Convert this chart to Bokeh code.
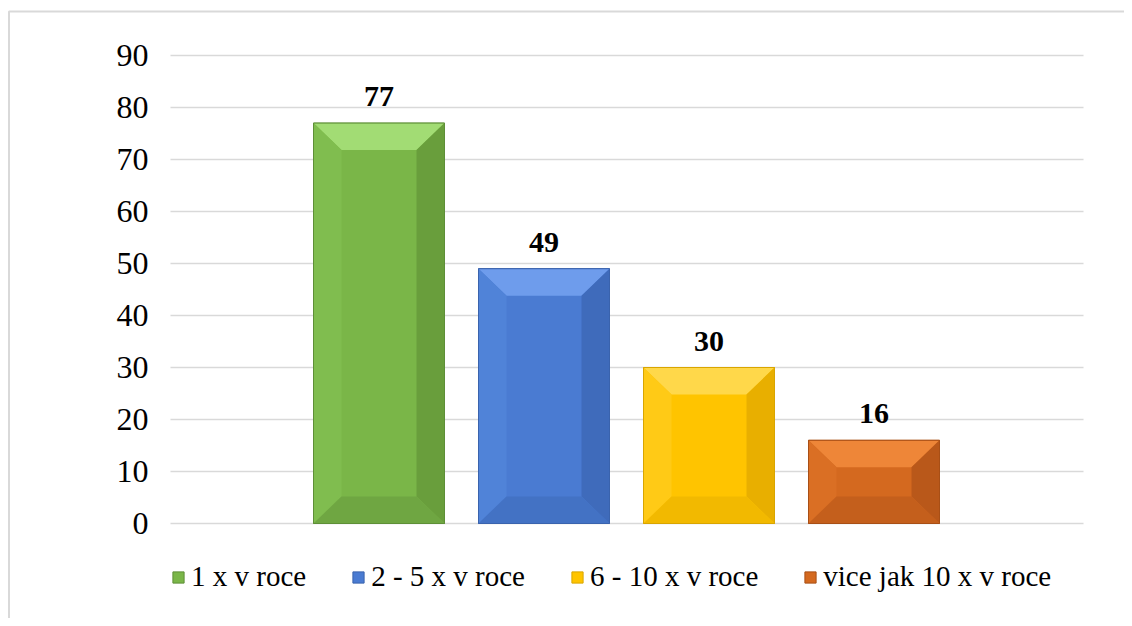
from bokeh.plotting import figure
from bokeh.models import Range1d, Legend, LegendItem, ColumnDataSource
from bokeh.core.properties import value
from bokeh.embed import file_html
from bokeh.resources import INLINE

# ---- data ----
categories = ["1 x v roce", "2 - 5 x v roce", "6 - 10 x v roce", "vice jak 10 x v roce"]
values = [77, 49, 30, 16]
y_ticks = [0, 10, 20, 30, 40, 50, 60, 70, 80, 90]
y_tick_labels = ["0", "10", "20", "30", "40", "50", "60", "70", "80", "90"]

# ---- styles ----
col_main = ["#7AB648", "#4A7BD2", "#FFC400", "#D4691F"]
col_top = ["#A2DC74", "#6E9CEC", "#FFD84A", "#EE8638"]
col_left = ["#80BD4F", "#5083D8", "#FFCA16", "#DA6F24"]
col_right = ["#699E3C", "#3F6BBB", "#E8AF00", "#B9581A"]
col_bottom = ["#6FA642", "#4372C4", "#F2B900", "#C45F1C"]
col_line = ["#5E8F37", "#3A63AD", "#D9A500", "#A84F16"]

FONT = "Liberation Serif"
W, H = 1124, 618
# pixel geometry of the plotting area inside the figure
SX = 165.0           # px per category step
SY = 5.2             # px per value unit
X0 = -378.5 / SX     # data x at figure left edge
Y_BOTTOM_PX = 95.0   # px from figure bottom to value 0
Y0 = -Y_BOTTOM_PX / SY
GRID_L = X0 + 170 / SX
GRID_R = X0 + 1083 / SX
bar_w = 131 / SX
bx, by = 28 / SX, 27 / SY  # bevel size

p = figure(width=W, height=H, output_backend="svg", toolbar_location=None,
           x_range=Range1d(X0, X0 + W / SX), y_range=Range1d(Y0, Y0 + H / SY),
           min_border=0)
p.outline_line_color = None
p.background_fill_color = "white"
p.border_fill_color = "white"
p.axis.visible = False
p.grid.visible = False

# chart-area border (top and left visible)
top_y = Y0 + (H - 11) / SY
left_x = X0 + 8.5 / SX
p.line(x=[left_x, left_x, X0 + W / SX], y=[Y0, top_y, top_y], line_color="#d9d9d9", line_width=2)

# gridlines
p.segment(x0=[GRID_L] * len(y_ticks), x1=[GRID_R] * len(y_ticks), y0=y_ticks, y1=y_ticks,
          line_color="#d9d9d9", line_width=1.5)
# tick labels
p.text(x=[GRID_L] * len(y_ticks), y=y_ticks, text=y_tick_labels, x_offset=-22,
       text_align="right", text_baseline="middle", text_font=value(FONT),
       text_font_size="32px", text_color="#000000")

items = []
for i, (cat, v) in enumerate(zip(categories, values)):
    x = i
    L, R, T, B = x - bar_w / 2, x + bar_w / 2, v, 0
    Li, Ri = L + bx, R - bx
    byy = min(by, v / 2)
    Ti, Bi = T - byy, B + byy
    r = p.vbar(x=[x], top=[v], width=bar_w, fill_color=col_main[i], line_color=col_line[i], line_width=1)
    p.patches(xs=[[L, R, Ri, Li], [L, Li, Li, L], [R, R, Ri, Ri], [L, Li, Ri, R]],
              ys=[[T, T, Ti, Ti], [T, Ti, Bi, B], [T, B, Bi, Ti], [B, Bi, Bi, B]],
              fill_color=[col_top[i], col_left[i], col_right[i], col_bottom[i]],
              line_color=None)
    p.vbar(x=[x], top=[v], width=bar_w, fill_color=None, line_color=col_line[i], line_width=1)
    items.append(LegendItem(label=cat, renderers=[r]))

src = ColumnDataSource(dict(x=list(range(len(values))), y=values, t=[str(v) for v in values]))
p.text(x="x", y="y", text="t", source=src, y_offset=-17, text_align="center", text_baseline="bottom",
       text_font=value(FONT), text_font_style="bold", text_font_size="30px", text_color="#000000")

legend = Legend(items=items, orientation="horizontal", location=(171, 25))
legend.label_text_font = FONT
legend.label_text_font_size = "29px"
legend.label_text_color = "#000000"
legend.glyph_width = 14
legend.glyph_height = 14
legend.label_standoff = 6
legend.spacing = 45
legend.padding = 0
legend.margin = 0
legend.border_line_color = None
legend.background_fill_alpha = 0
p.add_layout(legend, "center")

open("out.html", "w").write(file_html(p, INLINE))
